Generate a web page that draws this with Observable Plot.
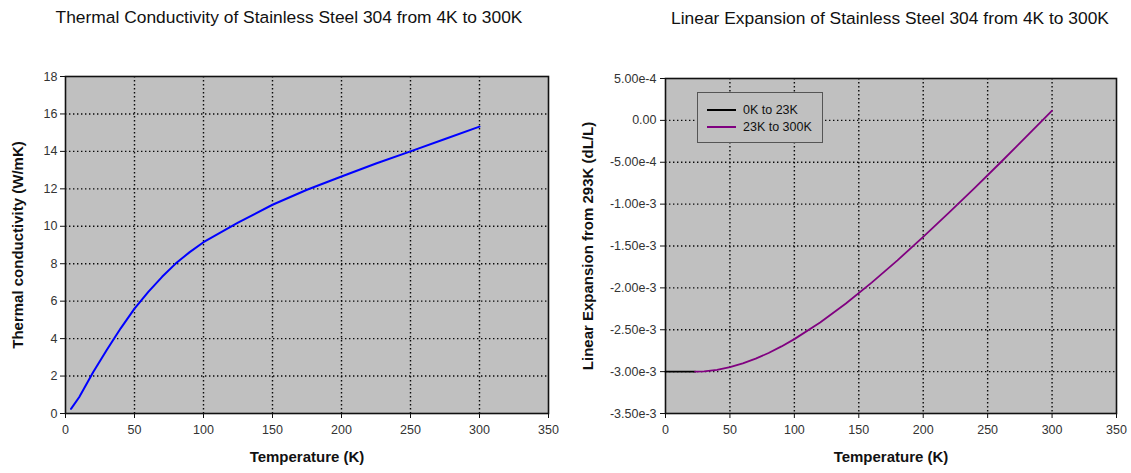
<!DOCTYPE html>
<html>
<head>
<meta charset="utf-8">
<script src="https://cdn.jsdelivr.net/npm/d3@7"></script>
<script src="https://cdn.jsdelivr.net/npm/@observablehq/plot@0.6"></script>
<style>
  html, body { margin: 0; padding: 0; background: #fff; }
  #root { position: relative; width: 1131px; height: 473px; overflow: hidden; font-family: "Liberation Sans", Arial, sans-serif; }
  .panel { position: absolute; top: 0; }
  .title { position: absolute; font-size: 17.4px; color: #111; white-space: nowrap; transform: translateX(-50%); }
  .legend { position: absolute; background: #c0c0c0; border: 1px solid #555; box-sizing: border-box; font-size: 12.5px; color: #111; padding: 8px 0 0 9px; }
  .legend .row { display: flex; align-items: center; height: 17px; }
  .legend .sw { width: 29px; height: 2px; margin-right: 7px; }
</style>
</head>
<body>
<div id="root"></div>
<script>
// ---- Data ----
const tcTemp = [4, 10, 20, 30, 40, 50, 60, 70, 80, 90, 100, 125, 150, 175, 200, 225, 250, 275, 300];
const tcValue = [0.25, 0.88, 2.2, 3.4, 4.55, 5.6, 6.5, 7.3, 8.02, 8.62, 9.15, 10.2, 11.15, 11.95, 12.66, 13.35, 14.0, 14.66, 15.32];

const lowTemp = [0, 23];
const lowExp = [-3.0e-3, -3.0e-3];
const expTemp = [23, 30, 40, 50, 60, 70, 80, 90, 100, 120, 140, 160, 180, 200, 220, 240, 260, 280, 300];
const expValue = [-3.000e-3, -2.997e-3, -2.979e-3, -2.947e-3, -2.902e-3, -2.845e-3, -2.777e-3, -2.699e-3, -2.612e-3,
                  -2.413e-3, -2.186e-3, -1.937e-3, -1.671e-3, -1.392e-3, -1.102e-3, -0.805e-3, -0.503e-3, -0.195e-3, 0.116e-3];

const xTicks = [0, 50, 100, 150, 200, 250, 300, 350];
const xGrid = [50, 100, 150, 200, 250, 300];
const leftYTicks = [0, 2, 4, 6, 8, 10, 12, 14, 16, 18];
const leftYGrid = [2, 4, 6, 8, 10, 12, 14, 16];
const rightYTicks = [5e-4, 0, -5e-4, -1e-3, -1.5e-3, -2e-3, -2.5e-3, -3e-3, -3.5e-3];
const rightYLabels = ["5.00e-4", "0.00", "-5.00e-4", "-1.00e-3", "-1.50e-3", "-2.00e-3", "-2.50e-3", "-3.00e-3", "-3.50e-3"];
const rightYGrid = [0, -5e-4, -1e-3, -1.5e-3, -2e-3, -2.5e-3, -3e-3];

const titles = ["Thermal Conductivity of Stainless Steel 304 from 4K to 300K", "Linear Expansion of Stainless Steel 304 from 4K to 300K"];
const yLabels = ["Thermal conductivity (W/mK)", "Linear Expansion from 293K (dL/L)"];
const xLabel = "Temperature (K)";
const legendNames = ["0K to 23K", "23K to 300K"];
const legendColors = ["#000000", "#800080"];

const tc = tcTemp.map((t, i) => ({t, v: tcValue[i]}));
const low = lowTemp.map((t, i) => ({t, v: lowExp[i]}));
const exp = expTemp.map((t, i) => ({t, v: expValue[i]}));

const gridStyle = {stroke: "#000", strokeOpacity: 0.95, strokeWidth: 1.4, strokeDasharray: "1.4,2.6"};
const font = "'Liberation Sans', Arial, sans-serif";

const root = document.getElementById("root");

// ---- Left chart ----
const left = Plot.plot({
  width: 565, height: 473,
  marginTop: 76, marginBottom: 60, marginLeft: 65, marginRight: 17,
  style: {fontFamily: font, fontSize: "12.5px", color: "#222", background: "transparent"},
  x: {domain: [0, 350]},
  y: {domain: [0, 18]},
  marks: [
    Plot.frame({fill: "#c0c0c0", stroke: null}),
    Plot.gridX(xGrid, gridStyle),
    Plot.gridY(leftYGrid, gridStyle),
    Plot.frame({stroke: "#111", strokeWidth: 1.6}),
    Plot.axisX(xTicks, {tickSize: 5, tickPadding: 7, label: null, stroke: "#111", fill: "#333", fontSize: 12.5}),
    Plot.axisY(leftYTicks, {tickSize: 5, tickPadding: 3, label: null, stroke: "#111", fill: "#333", fontSize: 12.5}),
    Plot.line(tc, {x: "t", y: "v", stroke: "#0000ff", strokeWidth: 2}),
    Plot.text([xLabel], {frameAnchor: "bottom", dy: 48, fontWeight: "bold", fontSize: 15, fill: "#111"}),
    Plot.text([yLabels[0]], {frameAnchor: "left", textAnchor: "middle", dx: -47, rotate: -90, fontWeight: "bold", fontSize: 15, fill: "#111"})
  ]
});
left.classList.add("panel");
left.style.left = "0px";
root.appendChild(left);

// ---- Right chart ----
const right = Plot.plot({
  width: 566, height: 473,
  marginTop: 78, marginBottom: 60, marginLeft: 100, marginRight: 15,
  style: {fontFamily: font, fontSize: "12.5px", color: "#222", background: "transparent"},
  x: {domain: [0, 350]},
  y: {domain: [-3.5e-3, 5e-4]},
  marks: [
    Plot.frame({fill: "#c0c0c0", stroke: null}),
    Plot.gridX(xGrid, gridStyle),
    Plot.gridY(rightYGrid, gridStyle),
    Plot.frame({stroke: "#111", strokeWidth: 1.6}),
    Plot.axisX(xTicks, {tickSize: 5, tickPadding: 7, label: null, stroke: "#111", fill: "#333", fontSize: 12.5}),
    Plot.axisY(rightYTicks, {tickSize: 5, tickPadding: 4, label: null, stroke: "#111", fill: "#333", fontSize: 12.5,
      tickFormat: d => rightYLabels[rightYTicks.findIndex(v => Math.abs(v - d) < 1e-9)]}),
    Plot.line(low, {x: "t", y: "v", stroke: legendColors[0], strokeWidth: 1.8}),
    Plot.line(exp, {x: "t", y: "v", stroke: legendColors[1], strokeWidth: 1.8}),
    Plot.text([xLabel], {frameAnchor: "bottom", dy: 48, fontWeight: "bold", fontSize: 15, fill: "#111"}),
    Plot.text([yLabels[1]], {frameAnchor: "left", textAnchor: "middle", dx: -77, rotate: -90, fontWeight: "bold", fontSize: 15, fill: "#111"})
  ]
});
right.classList.add("panel");
right.style.left = "565px";
root.appendChild(right);

// ---- Titles ----
[[titles[0], 289, 7], [titles[1], 890, 8]].forEach(([txt, cx, top]) => {
  const d = document.createElement("div");
  d.className = "title";
  d.textContent = txt;
  d.style.left = cx + "px";
  d.style.top = top + "px";
  root.appendChild(d);
});

// ---- Legend ----
const lg = document.createElement("div");
lg.className = "legend";
lg.style.left = "697px"; lg.style.top = "92px"; lg.style.width = "126px"; lg.style.height = "51px";
legendNames.forEach((name, i) => {
  const row = document.createElement("div");
  row.className = "row";
  const sw = document.createElement("div");
  sw.className = "sw";
  sw.style.background = legendColors[i];
  const tx = document.createElement("span");
  tx.textContent = name;
  row.appendChild(sw); row.appendChild(tx);
  lg.appendChild(row);
});
root.appendChild(lg);
</script>
</body>
</html>
